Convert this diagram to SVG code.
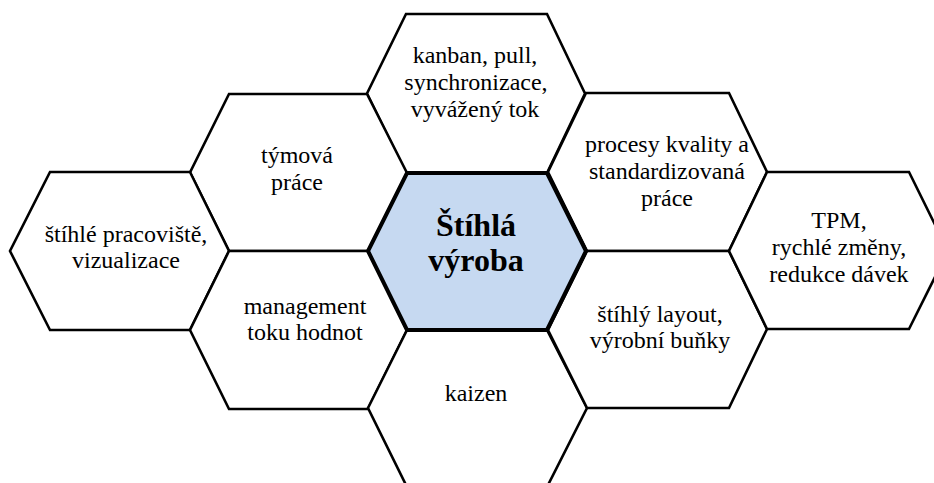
<svg xmlns="http://www.w3.org/2000/svg" width="934" height="483" viewBox="0 0 934 483">
<style>
.hex{fill:#ffffff;stroke:#000000;stroke-width:2.6;stroke-linejoin:miter}
.core{fill:#c6d9f1;stroke:#000000;stroke-width:4;stroke-linejoin:miter}
text{font-family:'Liberation Serif','Times New Roman','DejaVu Serif',serif;fill:#000000;text-anchor:middle}
.t{font-size:24px}
.tb{font-size:32px;font-weight:bold}
</style>
<rect width="934" height="483" fill="#ffffff"/>
<g id="connectors"/>
<g id="n-kanban">
<polygon class="hex" points="406,14 547,14 585,93.5 547,173 406,173 367,93.5"/>
<text class="t" x="475" y="63">kanban, pull,</text>
<text class="t" x="476" y="90">synchronizace,</text>
<text class="t" x="475" y="117">vyvážený tok</text>
</g>
<g id="n-tymova">
<polygon class="hex" points="229,94 367,94 407,173 368,251 229,251 190,172.5"/>
<text class="t" x="297" y="163">týmová</text>
<text class="t" x="297" y="190">práce</text>
</g>
<g id="n-pracoviste">
<polygon class="hex" points="50,172 190,172 229,251 190,330 50,330 10,251"/>
<text class="t" x="126" y="242">štíhlé pracoviště,</text>
<text class="t" x="126" y="268">vizualizace</text>
</g>
<g id="n-management">
<polygon class="hex" points="229,251 368,251 407,330 368,409 229,409 190,330"/>
<text class="t" x="305" y="314">management</text>
<text class="t" x="305" y="340">toku hodnot</text>
</g>
<g id="n-kaizen">
<polygon class="hex" points="407,330 547,330 587,408 547,487 407,487 368,408"/>
<text class="t" x="476" y="401">kaizen</text>
</g>
<g id="n-procesy">
<polygon class="hex" points="586,93 729,93 767,172 729,251 587,251 548,172"/>
<text class="t" x="667" y="152">procesy kvality a</text>
<text class="t" x="667" y="179">standardizovaná</text>
<text class="t" x="667" y="206">práce</text>
</g>
<g id="n-layout">
<polygon class="hex" points="587,251 729,251 767,329 729,408 587,408 548,330"/>
<text class="t" x="660" y="322">štíhlý layout,</text>
<text class="t" x="660" y="348">výrobní buňky</text>
</g>
<g id="n-tpm">
<polygon class="hex" points="767,172 909,172 948,251 909,329 767,329 729,251"/>
<text class="t" x="839" y="228">TPM,</text>
<text class="t" x="839" y="255">rychlé změny,</text>
<text class="t" x="839" y="282">redukce dávek</text>
</g>
<g id="n-center">
<polygon class="core" points="407,173 547,173 586,251 547,330 407,330 368,251"/>
<text class="tb" x="476" y="236">Štíhlá</text>
<text class="tb" x="476" y="271">výroba</text>
</g>
</svg>
